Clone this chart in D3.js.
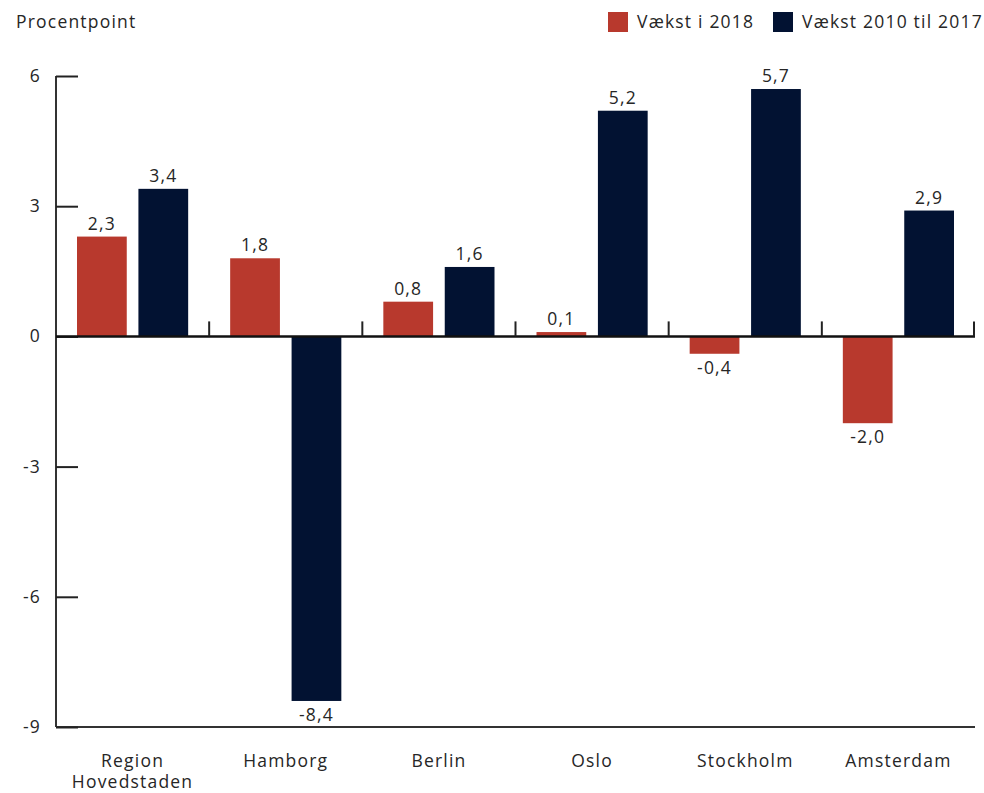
<!DOCTYPE html>
<html><head><meta charset="utf-8">
<script src="https://cdn.jsdelivr.net/npm/d3@7"></script>
<style>body{margin:0;background:#fff}svg text{font-family:"Open Sans",sans-serif;fill:#262626;letter-spacing:1.2px}</style>
</head><body>
<svg id="c" width="984" height="793"></svg>
<script>
const categories = [["Region","Hovedstaden"],["Hamborg"],["Berlin"],["Oslo"],["Stockholm"],["Amsterdam"]];
const seriesNames = ["Vækst i 2018","Vækst 2010 til 2017"];
const vaekst2018 = [2.3, 1.8, 0.8, 0.1, -0.4, -2.0];
const vaekst2010_2017 = [3.4, -8.4, 1.6, 5.2, 5.7, 2.9];
const yTicks = [6, 3, 0, -3, -6, -9];
const colors = ["#B8392D", "#021232"];

const svg = d3.select("#c");
const x0 = 56, x1 = 975;
const fs = 17.5;
const y = d3.scaleLinear().domain([-9, 6]).range([727, 76]);
const xb = d3.scaleBand().domain(d3.range(categories.length)).range([x0, x1]);
const xs = d3.scaleBand().domain([0,1]).range([21, xb.bandwidth()-21]).paddingInner(0.19);
const fmt = v => d3.format(".1f")(v).replace(".", ",").replace("−","-");

// y axis line
svg.append("line").attr("x1",x0).attr("x2",x0).attr("y1",y(6)).attr("y2",y(-9)).attr("stroke","#333").attr("stroke-width",2);
// bottom line
svg.append("line").attr("x1",x0).attr("x2",x1).attr("y1",y(-9)).attr("y2",y(-9)).attr("stroke","#333").attr("stroke-width",2);
// y ticks (inner)
const ya = d3.axisRight(y).tickValues(yTicks).tickSize(22).tickFormat("");
const g = svg.append("g").attr("transform",`translate(${x0},0)`).call(ya);
g.select(".domain").remove();
g.selectAll(".tick line").attr("stroke","#222").attr("stroke-width",2);
svg.selectAll(".ylab").data(yTicks).enter().append("text")
  .attr("x", 41).attr("y", d=>y(d)+6).attr("text-anchor","end").attr("font-size",fs).text(d=>d3.format("d")(d).replace("−","-"));

// bars
const series = [vaekst2018, vaekst2010_2017];
series.forEach((vals, si) => {
  svg.selectAll(".b"+si).data(vals).enter().append("rect")
    .attr("x",(d,i)=>xb(i)+xs(si)).attr("width",xs.bandwidth())
    .attr("y",d=>y(Math.max(0,d))).attr("height",d=>Math.abs(y(d)-y(0)))
    .attr("fill",colors[si]);
  svg.selectAll(".l"+si).data(vals).enter().append("text")
    .attr("x",(d,i)=>xb(i)+xs(si)+xs.bandwidth()/2)
    .attr("y",d=> d>=0 ? y(d)-7 : y(d)+20)
    .attr("text-anchor","middle").attr("font-size",fs).text(d=>fmt(d));
});

// zero line
svg.append("line").attr("x1",x0).attr("x2",x1).attr("y1",y(0)).attr("y2",y(0)).attr("stroke","#111").attr("stroke-width",2.5);
// category separators at zero
d3.range(1, categories.length+1).forEach(i=>{
  const xx = i<categories.length ? xb(i) : x1-1;
  svg.append("line").attr("x1",xx).attr("x2",xx).attr("y1",y(0)-15).attr("y2",y(0)).attr("stroke","#222").attr("stroke-width",2);
});

// x labels
categories.forEach((lines,i)=>{
  lines.forEach((ln,k)=>svg.append("text").attr("x",xb(i)+xb.bandwidth()/2).attr("y",767+k*21)
    .attr("text-anchor","middle").attr("font-size",fs).text(ln));
});

// title
svg.append("text").attr("x",16).attr("y",28).attr("font-size",fs).text("Procentpoint");

// legend
const legX = [608, 773];
seriesNames.forEach((n,i)=>{
  svg.append("rect").attr("x",legX[i]).attr("y",12).attr("width",20).attr("height",20).attr("fill",colors[i]);
  svg.append("text").attr("x",legX[i]+29).attr("y",28).attr("font-size",fs).text(n);
});
</script>
</body></html>
